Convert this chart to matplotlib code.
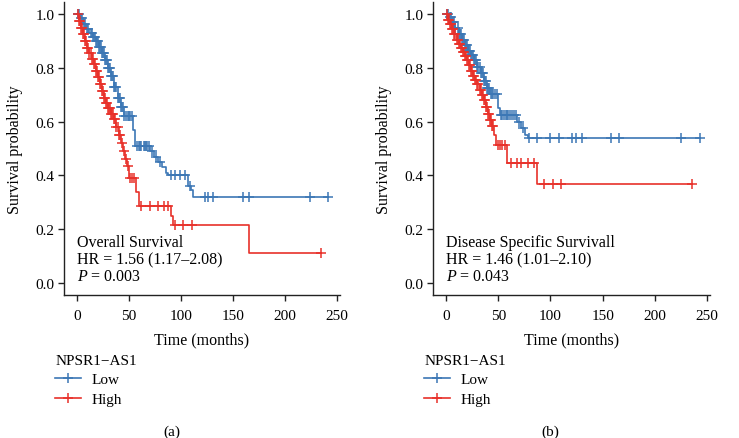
import numpy as np
import matplotlib
matplotlib.use("Agg")
from matplotlib import pyplot as plt
from matplotlib.lines import Line2D

plt.rcParams['font.family'] = ['Liberation Serif', 'DejaVu Serif']
plt.rcParams['mathtext.fontset'] = 'custom'
plt.rcParams['mathtext.rm'] = 'Liberation Serif'
plt.rcParams['mathtext.it'] = 'Liberation Serif:italic'

blue = '#3C77B5'
red = '#E8312A'

# (a) overall survival - step knots (time, survival) and censor times
a_low_t = [0, 3, 6, 9, 12, 15, 18, 21, 24, 27, 30, 33, 36, 39, 42, 45, 54, 56, 70, 74, 78, 82, 86, 88, 107, 110, 112]
a_low_s = [1.0, 0.985, 0.965, 0.945, 0.93, 0.915, 0.9, 0.88, 0.855, 0.83, 0.8, 0.77, 0.73, 0.69, 0.655, 0.62,
           0.57, 0.51, 0.49, 0.47, 0.45, 0.43, 0.41, 0.40, 0.36, 0.345, 0.32]
a_low_c = [1, 2, 4, 5, 7, 8, 10, 11, 13, 14, 15, 16, 17, 18, 19, 20, 21, 22, 23, 24, 25, 26, 27, 28, 29, 30, 31,
           32, 33, 34, 35, 36, 37, 38, 39, 40, 41, 42, 43, 44, 45, 47, 49, 50, 51, 53, 58, 60, 61, 62, 64, 65, 66,
           67, 69, 72, 76, 80, 90, 94, 99, 104, 109, 123, 126, 131, 160, 165, 224, 241]
a_high_t = [0, 2, 4, 6, 8, 10, 12, 14, 16, 18, 20, 22, 24, 26, 28, 30, 33, 36, 38, 40, 42, 44, 46, 48, 50, 57, 60,
            90, 92, 165]
a_high_s = [1.0, 0.975, 0.95, 0.925, 0.9, 0.875, 0.855, 0.835, 0.815, 0.79, 0.765, 0.74, 0.715, 0.69, 0.67, 0.65,
            0.63, 0.61, 0.58, 0.55, 0.52, 0.49, 0.46, 0.435, 0.39, 0.34, 0.285, 0.25, 0.215, 0.11]
a_high_c = [1, 2, 3, 4, 5, 6, 7, 8, 9, 10, 11, 12, 13, 14, 15, 16, 17, 18, 19, 20, 21, 22, 23, 24, 25, 26, 27,
            28, 29, 30, 31, 32, 33, 34, 35, 36, 37, 38, 39, 40, 41, 43, 45, 47, 49, 51, 53, 55, 62, 70, 78, 84, 88,
            94, 102, 111, 235]

# (b) disease specific survival
b_low_t = [0, 3, 6, 9, 12, 15, 18, 21, 24, 27, 30, 33, 36, 39, 42, 50, 52, 68, 72, 76, 78]
b_low_s = [1.0, 0.99, 0.97, 0.95, 0.925, 0.905, 0.885, 0.865, 0.85, 0.83, 0.805, 0.78, 0.75, 0.725, 0.705, 0.65,
           0.625, 0.6, 0.575, 0.55, 0.54]
b_low_c = [1, 2, 4, 5, 7, 8, 9, 11, 12, 13, 14, 15, 16, 17, 18, 19, 20, 21, 22, 23, 24, 25, 26, 27, 28, 29, 30,
           31, 32, 33, 34, 35, 36, 37, 38, 39, 40, 41, 43, 44, 45, 47, 49, 53, 54, 55, 57, 58, 59, 61, 63, 65, 67,
           70, 74, 79, 87, 100, 108, 121, 124, 130, 158, 166, 225, 243]
b_high_t = [0, 2, 4, 6, 8, 10, 12, 14, 16, 18, 20, 22, 24, 26, 28, 30, 32, 34, 36, 38, 40, 42, 44, 46, 48, 58, 87]
b_high_s = [1.0, 0.98, 0.965, 0.945, 0.925, 0.905, 0.89, 0.875, 0.86, 0.845, 0.83, 0.81, 0.79, 0.77, 0.755, 0.74,
            0.72, 0.7, 0.68, 0.655, 0.63, 0.605, 0.585, 0.55, 0.515, 0.445, 0.37]
b_high_c = [1, 2, 3, 4, 5, 6, 7, 8, 9, 10, 11, 12, 13, 14, 15, 16, 17, 18, 19, 20, 21, 22, 23, 24, 25, 26, 27,
            28, 29, 30, 31, 32, 33, 34, 35, 36, 37, 38, 39, 40, 41, 42, 43, 44, 45, 50, 52, 54, 56, 62, 68, 72, 78,
            84, 94, 102, 110, 236]

panels = [
    dict(pos=[0.0866, 0.3257, 0.3735, 0.667], low=(a_low_t, a_low_s, a_low_c), high=(a_high_t, a_high_s, a_high_c),
         text=['Overall Survival', 'HR = 1.56 (1.17–2.08)', '$P$ = 0.003'], tag='(a)', tag_x=172 / 739),
    dict(pos=[0.586, 0.3257, 0.375, 0.667], low=(b_low_t, b_low_s, b_low_c), high=(b_high_t, b_high_s, b_high_c),
         text=['Disease Specific Survivall', 'HR = 1.46 (1.01–2.10)', '$P$ = 0.043'], tag='(b)', tag_x=550 / 739),
]

fig = plt.figure(figsize=(7.39, 4.39), dpi=100)


def km(ax, t, s, c, col):
    t = list(t) + [max(c)]
    s = list(s) + [s[-1]]
    ax.step(t, s, where='post', color=col, lw=1.2)
    idx = np.searchsorted(np.array(t[:-1]), np.array(c), side='right') - 1
    ax.plot(c, np.array(s)[idx], ls='none', marker='+', color=col, ms=7.5, mew=1.1)


for p in panels:
    ax = fig.add_axes(p['pos'])
    km(ax, *p['low'], blue)
    km(ax, *p['high'], red)
    ax.set_xlim(-12.5, 253)
    ax.set_ylim(-0.045, 1.045)
    ax.set_xticks([0, 50, 100, 150, 200, 250])
    ax.set_yticks([0.0, 0.2, 0.4, 0.6, 0.8, 1.0])
    ax.set_yticklabels(['0.0', '0.2', '0.4', '0.6', '0.8', '1.0'])
    for sp in ['top', 'right']:
        ax.spines[sp].set_visible(False)
    for sp in ['left', 'bottom']:
        ax.spines[sp].set_linewidth(1.0)
        ax.spines[sp].set_color('#222222')
    ax.tick_params(labelsize=11, length=4, width=1.0, color='#222222', pad=3)
    ax.tick_params(axis='x', pad=6)
    ax.set_xlabel('Time (months)', fontsize=11.5, labelpad=7)
    ax.set_ylabel('Survival probability', fontsize=11.5, labelpad=9)
    for k, line in enumerate(p['text']):
        ax.text(0, 0.152 - k * 0.063, line, fontsize=11.5, va='center', ha='left')
    handles = [Line2D([], [], color=blue, marker='+', ms=7.5, mew=1.1, lw=1.2),
               Line2D([], [], color=red, marker='+', ms=7.5, mew=1.1, lw=1.2)]
    leg = fig.legend(handles, ['Low', 'High'], title='NPSR1−AS1', loc='upper left',
                     bbox_to_anchor=(p['pos'][0] - 0.012, 1 - 355 / 439), frameon=False,
                     fontsize=11, title_fontsize=11, handlelength=1.7, handletextpad=0.7,
                     labelspacing=0.38, borderaxespad=0, borderpad=0, numpoints=1, alignment='left')
    fig.text(p['tag_x'], 1 - 432 / 439, p['tag'], fontsize=11, ha='center', va='center')

fig.savefig('out.png', dpi=100)
